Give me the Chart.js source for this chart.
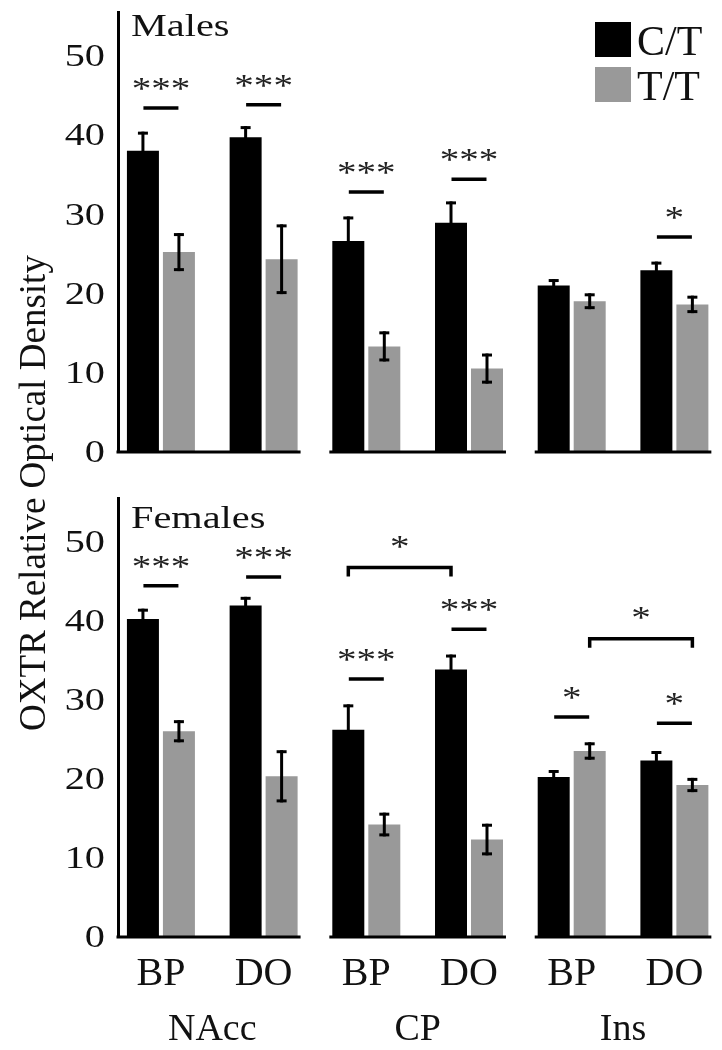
<!DOCTYPE html>
<html>
<head>
<meta charset="utf-8">
<title>OXTR Relative Optical Density</title>
<script src="https://cdn.jsdelivr.net/npm/chart.js@4"></script>
<style>
  html, body { margin: 0; padding: 0; background: #fff; }
  #wrap { width: 722px; height: 1050px; }
</style>
</head>
<body>
<div id="wrap"><canvas id="oxtr-chart"></canvas></div>
<script>
// categories
const regions = ['NAcc', 'CP', 'Ins'];
const conditions = ['BP', 'DO'];
const genotypes = ['C/T', 'T/T'];
const yTicks = [0, 10, 20, 30, 40, 50];

// one value per region/condition pair: NAcc BP, NAcc DO, CP BP, CP DO, Ins BP, Ins DO
const maleCT = [37.9, 39.6, 26.5, 28.8, 20.9, 22.8];
const maleCTErr = [2.4, 1.4, 3.1, 2.7, 0.8, 1.1];
const maleTT = [25.1, 24.2, 13.2, 10.4, 18.9, 18.5];
const maleTTErr = [2.4, 4.4, 1.9, 1.9, 1.0, 1.1];

const femaleCT = [40.1, 41.8, 26.1, 33.7, 20.1, 22.2];
const femaleCTErr = [1.3, 1.1, 3.2, 1.9, 0.9, 1.2];
const femaleTT = [25.9, 20.2, 14.1, 12.2, 23.4, 19.1];
const femaleTTErr = [1.4, 3.3, 1.5, 2.0, 1.1, 0.9];

// significance marks over a pair (line level in axis units)
const maleSig = [
  { at: 0, level: 43.3, label: '***' },
  { at: 1, level: 43.7, label: '***' },
  { at: 2, level: 32.7, label: '***' },
  { at: 3, level: 34.3, label: '***' },
  { at: 5, level: 27.0, label: '*' }
];
const femaleSig = [
  { at: 0, level: 44.3, label: '***' },
  { at: 1, level: 45.4, label: '***' },
  { at: 2, level: 32.5, label: '***' },
  { at: 3, level: 38.8, label: '***' },
  { at: 4, level: 27.7, label: '*' },
  { at: 5, level: 26.9, label: '*' }
];
// brackets between two bars: [genotype index, pair index]
const maleBrackets = [];
const femaleBrackets = [
  { from: [0, 2], to: [0, 3], level: 46.6, label: '*' },
  { from: [1, 4], to: [1, 5], level: 37.6, label: '*' }
];

const xLabels = regions.flatMap(() => conditions);
const CT_COLOR = '#000000';
const TT_COLOR = '#999999';
const SERIF = '"Liberation Serif", "Times New Roman", serif';
const STRETCH = 1.26;   // the panel text in the figure is drawn wide

Chart.defaults.font.family = SERIF;
Chart.defaults.color = '#000';

// y axis whose tick labels are stretched horizontally like the original
const LinearScale = Chart.LinearScale || Chart.registry.getScale('linear');
class WideTickScale extends LinearScale {
  static id = 'wideTick';
  drawLabels(chartArea) {
    const items = this.getLabelItems(chartArea);
    if (!items.length) return;
    const x0 = items[0].options.translation[0];
    const ctx = this.ctx;
    ctx.save();
    ctx.translate(x0, 0);
    ctx.scale(STRETCH, 1);
    ctx.translate(-x0, 0);
    super.drawLabels(chartArea);
    ctx.restore();
  }
}
Chart.register(WideTickScale);

function toPoints(values) {
  return values.map((v, i) => ({ x: i, y: v }));
}

function line(ctx, x1, y1, x2, y2) {
  ctx.beginPath();
  ctx.moveTo(x1, y1);
  ctx.lineTo(x2, y2);
  ctx.stroke();
}

function wideText(ctx, text, x, y) {
  ctx.save();
  ctx.translate(x, y);
  ctx.scale(STRETCH, 1);
  ctx.fillText(text, 0, 0);
  ctx.restore();
}

function stars(ctx, text, x, lineY) {
  ctx.fillStyle = '#222';
  ctx.font = '31px ' + SERIF;
  ctx.textAlign = 'center';
  ctx.textBaseline = 'middle';
  wideText(ctx, text, x, lineY - 17);
}

// scale padding for end labels would shrink the plot area, drop it
function noPadding(s) {
  s.paddingTop = 0;
  s.paddingBottom = 0;
  s.paddingLeft = 0;
  s.paddingRight = 0;
}

const panels = [
  { scale: 'yM', name: 'Males', nameLevel: 52.4, sig: maleSig, brackets: maleBrackets, first: 0 },
  { scale: 'yF', name: 'Females', nameLevel: 51.6, sig: femaleSig, brackets: femaleBrackets, first: 2 }
];

const annotations = {
  id: 'annotations',
  afterDatasetsDraw(chart) {
    const ctx = chart.ctx;
    const xs = chart.scales.x;
    ctx.save();
    ctx.strokeStyle = '#000';
    ctx.lineCap = 'butt';

    // broken x axis: one baseline piece per region
    ctx.lineWidth = 3;
    panels.forEach(p => {
      const y0 = chart.scales[p.scale].getPixelForValue(0) + 1;
      regions.forEach((r, g) => {
        const left = g === 0 ? chart.chartArea.left - 1.5 : xs.getPixelForValue(2 * g - 0.36);
        const right = xs.getPixelForValue(2 * g + 1 + 0.36);
        line(ctx, left, y0, right, y0);
      });
    });

    // error bars
    chart.data.datasets.forEach((ds, i) => {
      const meta = chart.getDatasetMeta(i);
      const ys = chart.scales[ds.yAxisID];
      meta.data.forEach((bar, j) => {
        const v = ds.data[j].y;
        const e = ds.errors[j];
        const top = ys.getPixelForValue(v + e);
        const bot = ys.getPixelForValue(v - e);
        ctx.lineWidth = 3;
        line(ctx, bar.x, top, bar.x, bot);
        line(ctx, bar.x - 5, top + 1.5, bar.x + 5, top + 1.5);
        line(ctx, bar.x - 5, bot - 1.5, bar.x + 5, bot - 1.5);
      });
    });

    // significance lines and brackets
    panels.forEach(p => {
      const ys = chart.scales[p.scale];
      p.sig.forEach(s => {
        const cx = xs.getPixelForValue(s.at);
        const y = ys.getPixelForValue(s.level);
        ctx.strokeStyle = '#000';
        ctx.lineWidth = 3.5;
        line(ctx, cx - 17.5, y, cx + 17.5, y);
        stars(ctx, s.label, cx, y);
      });
      p.brackets.forEach(b => {
        const barA = chart.getDatasetMeta(p.first + b.from[0]).data[b.from[1]];
        const barB = chart.getDatasetMeta(p.first + b.to[0]).data[b.to[1]];
        const y = ys.getPixelForValue(b.level);
        ctx.strokeStyle = '#000';
        ctx.lineWidth = 3.5;
        ctx.beginPath();
        ctx.moveTo(barA.x, y + 9);
        ctx.lineTo(barA.x, y);
        ctx.lineTo(barB.x, y);
        ctx.lineTo(barB.x, y + 9);
        ctx.stroke();
        stars(ctx, b.label, (barA.x + barB.x) / 2, y - 2);
      });
    });
    ctx.restore();
  },
  afterDraw(chart) {
    const ctx = chart.ctx;
    const area = chart.chartArea;
    ctx.save();

    // panel names
    ctx.fillStyle = '#111';
    ctx.font = '32px ' + SERIF;
    ctx.textAlign = 'left';
    ctx.textBaseline = 'alphabetic';
    panels.forEach(p => {
      wideText(ctx, p.name, area.left + 13, chart.scales[p.scale].getPixelForValue(p.nameLevel));
    });

    // shared y title
    ctx.save();
    ctx.translate(35, 493);
    ctx.rotate(-Math.PI / 2);
    ctx.font = '37px ' + SERIF;
    ctx.textAlign = 'center';
    ctx.textBaseline = 'middle';
    ctx.fillText('OXTR Relative Optical Density', 0, 0);
    ctx.restore();

    // legend
    ctx.font = '42px ' + SERIF;
    ctx.textAlign = 'left';
    ctx.textBaseline = 'alphabetic';
    genotypes.forEach((g, i) => {
      const ds = chart.data.datasets[i];
      const top = 22 + i * 45;
      ctx.fillStyle = ds.backgroundColor;
      ctx.fillRect(595, top, 36, 35);
      ctx.fillStyle = '#111';
      ctx.fillText(ds.label, 637, top + 33);
    });
    ctx.restore();
  }
};

const yAxis = (weight) => ({
  type: 'wideTick',
  position: 'left',
  stack: 'panels',
  stackWeight: weight,
  min: 0,
  max: 55.4,
  bounds: 'data',
  afterBuildTicks: s => { s.ticks = yTicks.map(v => ({ value: v })); },
  afterFit: s => { s.width = 118; noPadding(s); },
  ticks: { padding: 13, labelOffset: 3, color: '#111', font: { size: 32 }, callback: v => String(v) },
  grid: { display: false, drawTicks: false },
  border: { display: true, width: 3, color: '#000' }
});

const xCommon = {
  type: 'linear',
  position: 'bottom',
  min: -0.418,
  max: 5.415,
  bounds: 'data',
  offset: false,
  grid: { display: false, drawTicks: false },
  border: { display: false }
};

const ctx = document.getElementById('oxtr-chart').getContext('2d');
new Chart(ctx, {
  type: 'bar',
  data: {
    datasets: [
      { label: genotypes[0], data: toPoints(maleCT), errors: maleCTErr, backgroundColor: CT_COLOR, xAxisID: 'x', yAxisID: 'yM', stack: 'ct' },
      { label: genotypes[1], data: toPoints(maleTT), errors: maleTTErr, backgroundColor: TT_COLOR, xAxisID: 'x', yAxisID: 'yM', stack: 'tt' },
      { label: genotypes[0], data: toPoints(femaleCT), errors: femaleCTErr, backgroundColor: CT_COLOR, xAxisID: 'x', yAxisID: 'yF', stack: 'ct' },
      { label: genotypes[1], data: toPoints(femaleTT), errors: femaleTTErr, backgroundColor: TT_COLOR, xAxisID: 'x', yAxisID: 'yF', stack: 'tt' }
    ]
  },
  options: {
    responsive: true,
    maintainAspectRatio: false,
    animation: false,
    devicePixelRatio: 1,
    layout: { padding: { left: 0, top: 12, right: 5, bottom: 0 } },
    datasets: {
      bar: { categoryPercentage: 0.701, barPercentage: 0.889, borderWidth: 0 }
    },
    plugins: {
      legend: { display: false },
      tooltip: { enabled: false }
    },
    scales: {
      x: Object.assign({}, xCommon, {
        afterBuildTicks: s => { s.ticks = xLabels.map((_, i) => ({ value: i })); },
        afterFit: s => { s.height = 55; noPadding(s); },
        ticks: { padding: 14, color: '#111', font: { size: 40 }, autoSkip: false, maxRotation: 0,
                 callback: (v, i) => xLabels[i] }
      }),
      x2: Object.assign({}, xCommon, {
        afterBuildTicks: s => { s.ticks = regions.map((_, g) => ({ value: 2 * g + 0.5 })); },
        afterFit: s => { s.height = 59; noPadding(s); },
        ticks: { padding: 16, color: '#111', font: { size: 38 }, autoSkip: false, maxRotation: 0,
                 callback: (v, i) => regions[i] }
      }),
      yF: yAxis(438),
      yGap: {
        type: 'linear',
        position: 'left',
        stack: 'panels',
        stackWeight: 47,
        min: 0,
        max: 1,
        afterFit: s => { s.width = 118; noPadding(s); },
        ticks: { display: false },
        grid: { display: false, drawTicks: false },
        border: { display: false }
      },
      yM: yAxis(439)
    }
  },
  plugins: [annotations]
});
</script>
</body>
</html>
